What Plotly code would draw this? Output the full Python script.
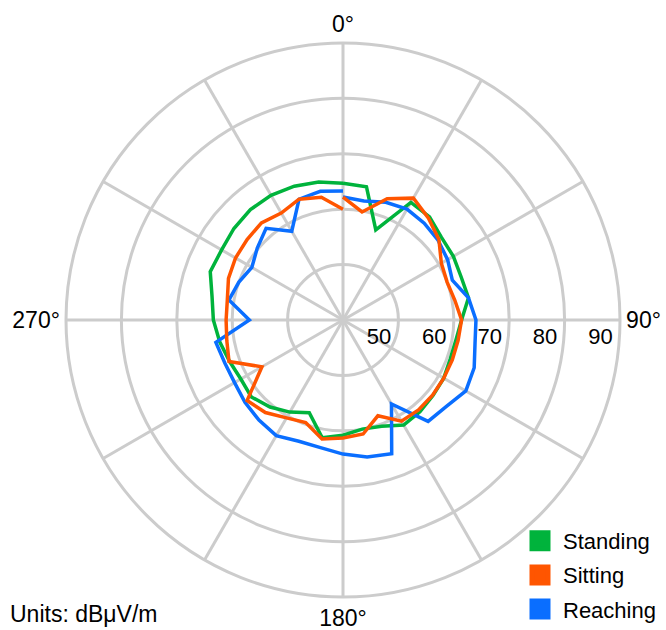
import plotly.graph_objects as go

# Angles (degrees, clockwise from north); 0 and 360 are separate measurements
angles = list(range(0, 361, 10))

standing = [64.7, 64.4, 57.3, 64.5, 64.3, 63.2, 63.0, 62.7, 63.0, 61.4,
            60.7, 60.6, 61.0, 61.2, 61.6, 61.9, 60.4, 60.0, 60.8, 61.6,
            57.8, 59.2, 60.5, 61.6, 61.3, 61.8, 62.6, 63.4, 64.0, 65.5,
            65.3, 65.7, 66.0, 66.0, 65.7, 65.3, 64.7]

sitting = [62.2, 59.8, 63.3, 65.4, 64.0, 62.6, 60.5, 60.0, 60.5, 61.4,
           61.1, 61.0, 61.0, 61.1, 61.2, 61.1, 58.4, 60.9, 61.3, 61.8,
           59.7, 60.4, 61.8, 62.6, 56.9, 61.9, 61.3, 61.1, 61.2, 62.0,
           62.4, 62.6, 62.9, 62.3, 63.2, 62.5, 60.0]

reaching = [62.2, 61.8, 62.6, 63.1, 62.8, 62.4, 61.8, 61.0, 63.0, 64.0,
            64.2, 65.2, 65.6, 64.3, 63.9, 57.5, 65.7, 65.1, 64.2, 63.4,
            63.3, 64.1, 63.6, 63.1, 62.6, 62.7, 63.3, 56.9, 60.9, 60.0,
            59.0, 60.2, 61.6, 58.5, 63.2, 63.6, 63.3]

series_names = ["Standing", "Sitting", "Reaching"]
series_colors = ["#00b33c", "#ff5500", "#0a6eff"]
series_values = [standing, sitting, reaching]

radial_ticks = [50, 60, 70, 80, 90]
radial_labels = ["50", "60", "70", "80", "90"]
radial_label_angle = 90  # labels sit along the 90° spoke
angular_ticks = list(range(0, 360, 30))
angular_labels = ["0°", "", "", "90°", "", "", "180°", "", "", "270°", "", ""]

FONT = "Liberation Sans, Arial, Helvetica, sans-serif"
GRID = "#cccccc"

fig = go.Figure()

# data lines (green first, then blue, orange on top)
for idx in [0, 2, 1]:
    fig.add_trace(go.Scatterpolar(
        r=series_values[idx], theta=angles, mode="lines",
        line=dict(color=series_colors[idx], width=3.5),
        name=series_names[idx], showlegend=False, hoverinfo="skip"))

# radial scale labels, placed just inside each ring along the 90° spoke
fig.add_trace(go.Scatterpolar(
    r=radial_ticks, theta=[radial_label_angle] * len(radial_ticks),
    mode="markers+text", text=radial_labels, textposition="bottom left",
    marker=dict(size=10, color="rgba(0,0,0,0)"),
    textfont=dict(size=22, color="black", family=FONT),
    showlegend=False, hoverinfo="skip", cliponaxis=False))

# legend entries (square swatches)
for name, color in zip(series_names, series_colors):
    fig.add_trace(go.Scatterpolar(
        r=[None], theta=[None], mode="markers",
        marker=dict(symbol="square", size=16, color=color,
                    line=dict(color=color, width=5)),
        name=name, legendgroup=name, showlegend=True))

fig.update_layout(
    width=666, height=630,
    margin=dict(l=0, r=0, t=0, b=0),
    paper_bgcolor="white",
    font=dict(family=FONT, size=22, color="black"),
    showlegend=True,
    legend=dict(x=517 / 666, xanchor="left", y=0, yanchor="bottom",
                bgcolor="rgba(0,0,0,0)", font=dict(size=22),
                tracegroupgap=2.5, itemsizing="trace", itemwidth=36),
    polar=dict(
        domain=dict(x=[66 / 666, 620 / 666], y=[33 / 630, 587 / 630]),
        bgcolor="white",
        radialaxis=dict(range=[40, 90], tickvals=radial_ticks,
                        showticklabels=False,
                        showline=False, ticks="", angle=0,
                        gridcolor=GRID, gridwidth=3),
        angularaxis=dict(direction="clockwise", rotation=90,
                         tickvals=angular_ticks, ticktext=angular_labels,
                         ticks="", showline=True, linecolor=GRID, linewidth=3,
                         gridcolor=GRID, gridwidth=3,
                         tickfont=dict(size=23, color="black")),
    ),
    annotations=[dict(text="Units: dBμV/m", xref="paper", yref="paper",
                      x=8 / 666, y=16 / 630, xanchor="left", yanchor="middle",
                      showarrow=False, font=dict(size=23, color="black"))],
)

fig.write_html("out.html", config={"displayModeBar": False},
               post_script="document.body.style.margin='0px';")
